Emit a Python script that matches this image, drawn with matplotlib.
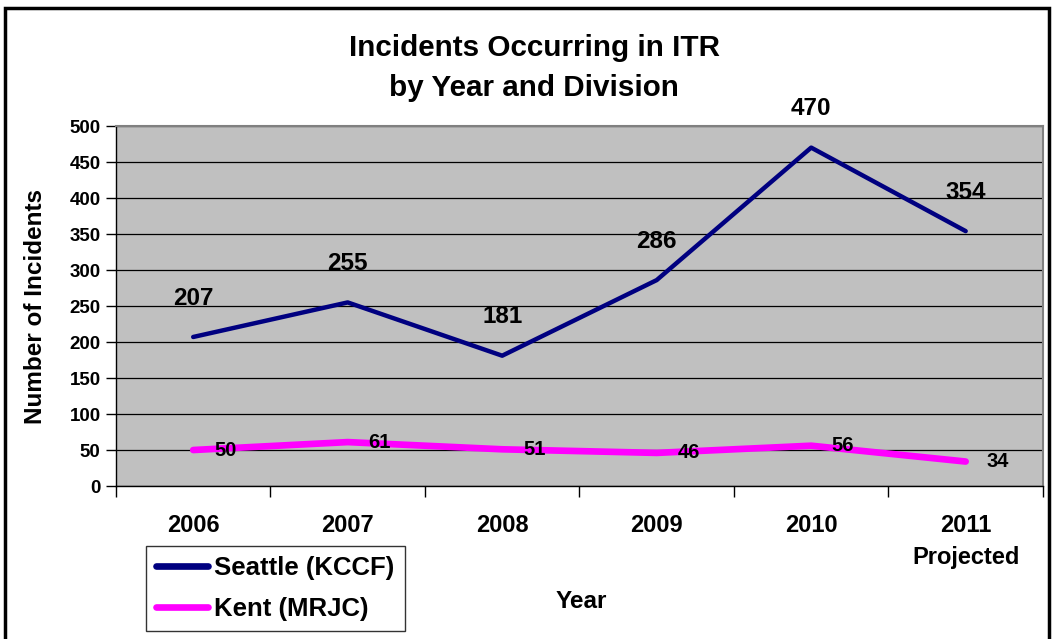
import matplotlib.pyplot as plt
import matplotlib.patches as patches
import numpy as np

plt.rcParams["font.family"] = ["Liberation Sans", "DejaVu Sans"]
plt.rcParams["font.weight"] = "bold"

years = ["2006", "2007", "2008", "2009", "2010", "2011\nProjected"]
seattle = [207, 255, 181, 286, 470, 354]
kent = [50, 61, 51, 46, 56, 34]

fig = plt.figure(figsize=(10.54, 6.39), dpi=100)
ax = fig.add_axes([0.110, 0.2394, 0.8795, 0.5634])

x = np.arange(len(years))

ax.set_facecolor("#C0C0C0")
ax.set_axisbelow(True)
ax.grid(axis="y", color="black", linewidth=0.9)

ax.plot(x, seattle, color="#000080", linewidth=3.2, label="Seattle (KCCF)",
        solid_capstyle="round", zorder=3)
ax.plot(x, kent, color="#FF00FF", linewidth=4.8, label="Kent (MRJC)",
        solid_capstyle="round", zorder=3)

for xi, v in zip(x, seattle):
    ax.annotate(str(v), (xi, v), xytext=(0, 28), textcoords="offset points",
                ha="center", va="center", fontsize=17.5, fontweight="bold")
for xi, v in zip(x, kent):
    ax.annotate(str(v), (xi, v), xytext=(23, 0), textcoords="offset points",
                ha="center", va="center", fontsize=14.5, fontweight="bold", zorder=4)

ax.set_xlim(-0.5, 5.5)
ax.set_ylim(0, 500)
ax.set_yticks(range(0, 501, 50))
ax.set_xticks(x)
ax.set_xticklabels(years, fontsize=17, fontweight="bold", linespacing=1.5)
ax.set_xticks(np.arange(-0.5, 5.6, 1), minor=True)
ax.tick_params(axis="x", which="major", length=0, pad=20)
ax.tick_params(axis="x", which="minor", length=8, width=1, color="black")
ax.tick_params(axis="y", length=7, width=1, color="black", labelsize=13.5, pad=4)
for lbl in ax.get_yticklabels():
    lbl.set_fontweight("bold")

for side in ["top", "right"]:
    ax.spines[side].set_color("#808080")
    ax.spines[side].set_linewidth(1.5)
for side in ["left", "bottom"]:
    ax.spines[side].set_color("black")
    ax.spines[side].set_linewidth(1)

ax.set_ylabel("Number of Incidents", fontsize=17.5, fontweight="bold")
ax.yaxis.set_label_coords(-0.074, 0.5)
fig.text(0.551, 0.058, "Year", ha="center", va="center", fontsize=17.5, fontweight="bold")

fig.text(0.507, 0.894, "Incidents Occurring in ITR\nby Year and Division", ha="center",
         va="center", fontsize=21.3, fontweight="bold", linespacing=1.55)

leg = fig.legend(loc="lower left", bbox_to_anchor=(0.1385, 0.0125), fontsize=18.5,
                 frameon=True, fancybox=False, edgecolor="black", handlelength=2.0,
                 borderpad=0.4, labelspacing=0.65, handletextpad=0.25, borderaxespad=0)
leg.get_frame().set_linewidth(1)
for line in leg.get_lines():
    line.set_linewidth(4.8)
    line.set_solid_capstyle("round")
for t in leg.get_texts():
    t.set_fontweight("bold")

fig.patches.append(patches.Rectangle((0.005, -0.1), 0.99, 1.088, transform=fig.transFigure,
                                     fill=False, edgecolor="black", linewidth=2.5))

fig.savefig("out.png", dpi=100)
